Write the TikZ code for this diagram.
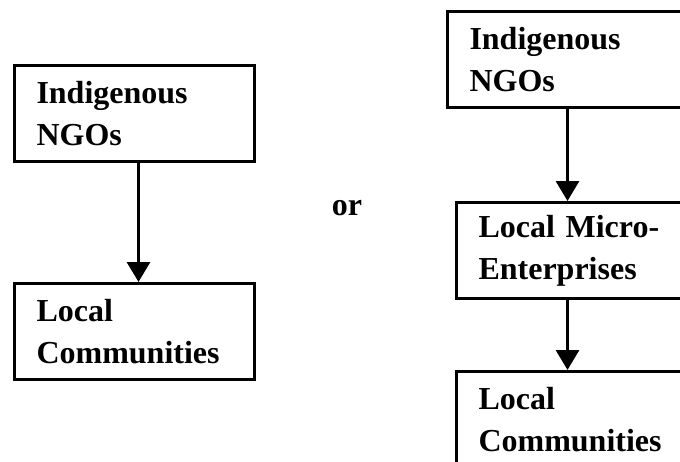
\documentclass[tikz,border=0pt]{standalone}
\usepackage{fontspec}
\setmainfont{Liberation Serif}
\usetikzlibrary{positioning,arrows.meta}

\begin{document}
\begin{tikzpicture}[x=0.5pt,y=-0.5pt,
  font=\fontsize{16pt}{21pt}\selectfont\bfseries,
  blk/.style={draw,line width=1.5pt,minimum width=120pt,minimum height=48pt,text width=98pt,inner xsep=11pt,align=left,anchor=north west},
  arr/.style={-{Triangle[length=10pt,width=11.5pt]},line width=1.5pt}]
\useasboundingbox (0,0) rectangle (680,461);
% left chain
\node[blk] (ngoL) at (13,64) {Indigenous\\NGOs};
\node[blk,below=59.5pt of ngoL.south west,anchor=north west] (comL) {Local\\Communities};
% middle
\node[anchor=base] (orT) at (347,215) {or};
% right chain
\node[blk] (ngoR) at (446,10) {Indigenous\\NGOs};
\node[blk,below=46pt of ngoR.south west,anchor=north west,xshift=4.5pt] (microR) {Local Micro-\\Enterprises};
\node[blk,below=35pt of microR.south west,anchor=north west] (comR) {Local\\Communities};
\draw[arr] ([xshift=2pt]ngoL.south) -- ([xshift=2pt]comL.north);
\draw[arr] (ngoR.south) -- (ngoR.south |- microR.north);
\draw[arr] (ngoR.south |- microR.south) -- (ngoR.south |- comR.north);
\end{tikzpicture}
\end{document}
